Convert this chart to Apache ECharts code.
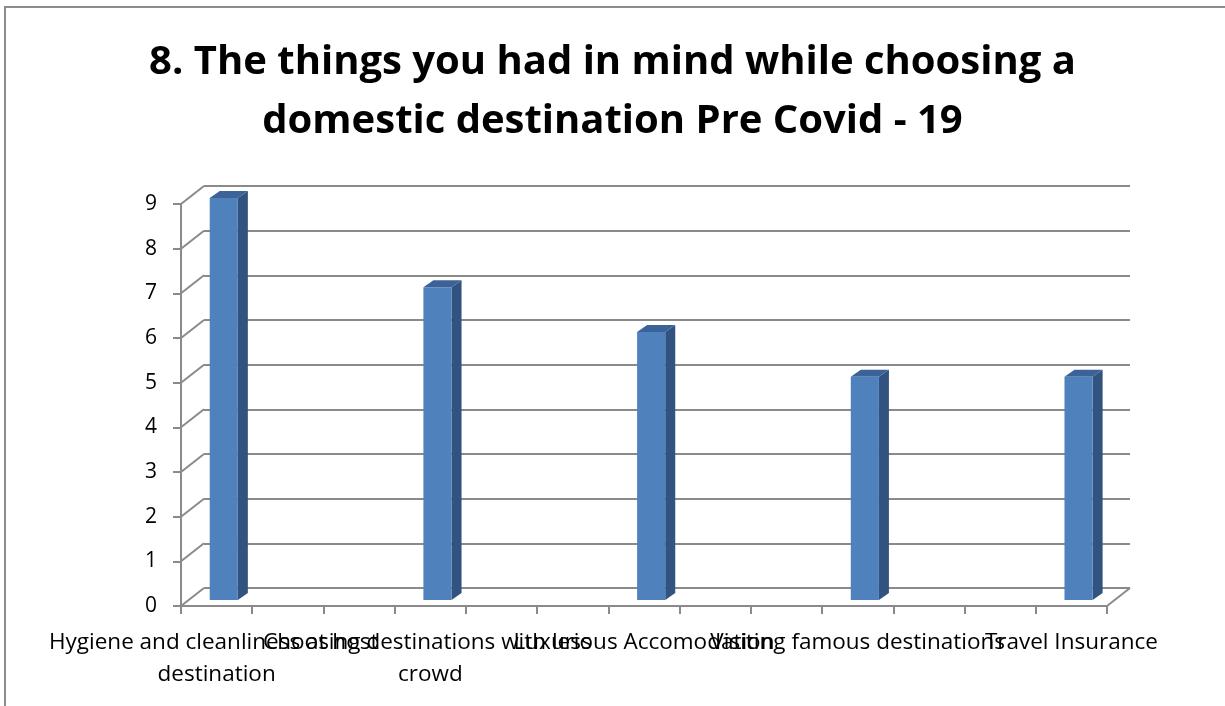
<!DOCTYPE html>
<html>
<head>
<meta charset="utf-8">
<title>Pre Covid - 19 destination choices</title>
<script src="https://cdn.jsdelivr.net/npm/echarts@6/dist/echarts.min.js"></script>
<style>
  html, body { margin: 0; padding: 0; background: #ffffff; }
  #chart { width: 1225px; height: 706px; }
</style>
</head>
<body>
<div id="chart"></div>
<script>
// Survey answers: what mattered when choosing a domestic destination
const categories = [
  'Hygiene and cleanliness at host destination',
  'Choosing destinations with less crowd',
  'Luxurious Accomodation',
  'Visiting famous destinations',
  'Travel Insurance'
];
const values = [9, 7, 6, 5, 5];
const yTicks = [0, 1, 2, 3, 4, 5, 6, 7, 8, 9];

// The category axis has two empty slots between every answer
const SLOT_STEP = 3;
const slotNames = [];
categories.forEach(function (name, i) {
  slotNames.push(name);
  if (i < categories.length - 1) {
    for (let k = 1; k < SLOT_STEP; k++) slotNames.push('');
  }
});
const barData = values.map(function (v, i) { return [i * SLOT_STEP, v]; });
const labelData = categories.map(function (c, i) { return { value: [i * SLOT_STEP, 0], name: c }; });

// Perspective offset of the back wall relative to the front plane
const DX = 23, DY = -18;
const GRID = { left: 181, right: 118, top: 204, bottom: 100 };
const LINE = '#8a8a8a';
const FONT = '"Open Sans", "Noto Sans", sans-serif';
const LABEL_SIZE = 22.5;

const chart = echarts.init(document.getElementById('chart'), null, { renderer: 'canvas' });

chart.setOption({
  backgroundColor: '#ffffff',
  animation: false,
  title: {
    text: '8. The things you had in mind while choosing a\ndomestic destination Pre Covid - 19',
    left: 'center',
    top: 28,
    textStyle: {
      fontFamily: FONT,
      fontWeight: 'bold',
      fontSize: 40,
      lineHeight: 59,
      color: '#000000'
    }
  },
  graphic: [{
    type: 'rect',
    silent: true,
    z: -10,
    shape: { x: 5, y: 7, width: 1260, height: 740 },
    style: { fill: null, stroke: '#8c8c8c', lineWidth: 2 }
  }],
  grid: [
    { left: GRID.left, right: GRID.right, top: GRID.top, bottom: GRID.bottom, outerBoundsMode: 'none' },
    { left: GRID.left + DX, right: GRID.right - DX, top: GRID.top + DY, bottom: GRID.bottom - DY, outerBoundsMode: 'none' }
  ],
  xAxis: [{
    type: 'category',
    gridIndex: 0,
    data: slotNames,
    boundaryGap: true,
    axisLine: { show: true, lineStyle: { color: LINE, width: 2 } },
    axisTick: { show: true, interval: 0, length: 8, lineStyle: { color: LINE, width: 2 } },
    axisLabel: { show: false },
    splitLine: { show: false }
  }, {
    type: 'category',
    gridIndex: 1,
    data: slotNames,
    show: false
  }],
  yAxis: [{
    type: 'value',
    gridIndex: 0,
    min: 0,
    max: 9,
    interval: 1,
    axisLine: { show: true, lineStyle: { color: LINE, width: 2 } },
    axisTick: { show: true, length: 8, lineStyle: { color: LINE, width: 2 } },
    axisLabel: { margin: 24, fontFamily: FONT, fontSize: 21, color: '#000000' },
    splitLine: { show: false }
  }, {
    type: 'value',
    gridIndex: 1,
    min: 0,
    max: 9,
    interval: 1,
    axisLine: { show: false },
    axisTick: { show: false },
    axisLabel: { show: false },
    splitLine: { show: true, lineStyle: { color: LINE, width: 2 } }
  }],
  series: [{
    // receding edges of the side wall and floor
    type: 'custom',
    xAxisIndex: 0,
    yAxisIndex: 0,
    silent: true,
    z: 1,
    data: yTicks.map(function (t) { return [0, t]; }),
    renderItem: function (params, api) {
      const cs = params.coordSys;
      const y = api.coord([0, api.value(1)])[1];
      const children = [{
        type: 'line',
        shape: { x1: cs.x, y1: y, x2: cs.x + DX, y2: y + DY },
        style: { stroke: LINE, lineWidth: 2 }
      }];
      if (api.value(1) === 0) {
        children.push({
          type: 'line',
          shape: { x1: cs.x + cs.width, y1: y, x2: cs.x + cs.width + DX, y2: y + DY },
          style: { stroke: LINE, lineWidth: 2 }
        });
      }
      return { type: 'group', children: children };
    }
  }, {
    // category names under the floor, wrapped like the axis text and allowed to overlap
    type: 'custom',
    xAxisIndex: 0,
    yAxisIndex: 0,
    silent: true,
    z: 2,
    data: labelData,
    renderItem: function (params, api) {
      const p = api.coord([api.value(0), 0]);
      return {
        type: 'text',
        x: p[0],
        y: p[1] + 21,
        style: {
          text: categories[params.dataIndex],
          width: 372,
          overflow: 'break',
          align: 'center',
          verticalAlign: 'top',
          fontFamily: FONT,
          fontSize: LABEL_SIZE,
          lineHeight: 32,
          fill: '#000000'
        }
      };
    }
  }, {
    // 3-D columns
    type: 'custom',
    xAxisIndex: 0,
    yAxisIndex: 0,
    z: 5,
    data: barData,
    renderItem: function (params, api) {
      const base = api.coord([api.value(0), 0]);
      const top = api.coord([api.value(0), api.value(1)]);
      const band = api.size([1, 0])[0];
      const w = band * 0.395;
      const ox = DX / 3, oy = DY / 3;   // columns stand a third of the way back
      const bx = 10, by = -7;           // column depth
      const x0 = base[0] + ox - w / 2 - 0.5;
      const x1 = x0 + w;
      const yb = base[1] + oy;
      const yt = top[1] + oy;
      return {
        type: 'group',
        children: [{
          type: 'polygon',
          shape: { points: [[x1, yt], [x1 + bx, yt + by], [x1 + bx, yb + by], [x1, yb]] },
          style: { fill: '#32537f' }
        }, {
          type: 'polygon',
          shape: { points: [[x0, yt], [x0 + bx, yt + by], [x1 + bx, yt + by], [x1, yt]] },
          style: { fill: '#3b639a' }
        }, {
          type: 'rect',
          shape: { x: x0, y: yt, width: w, height: yb - yt },
          style: { fill: '#4f81bd' }
        }]
      };
    }
  }]
});
</script>
</body>
</html>
